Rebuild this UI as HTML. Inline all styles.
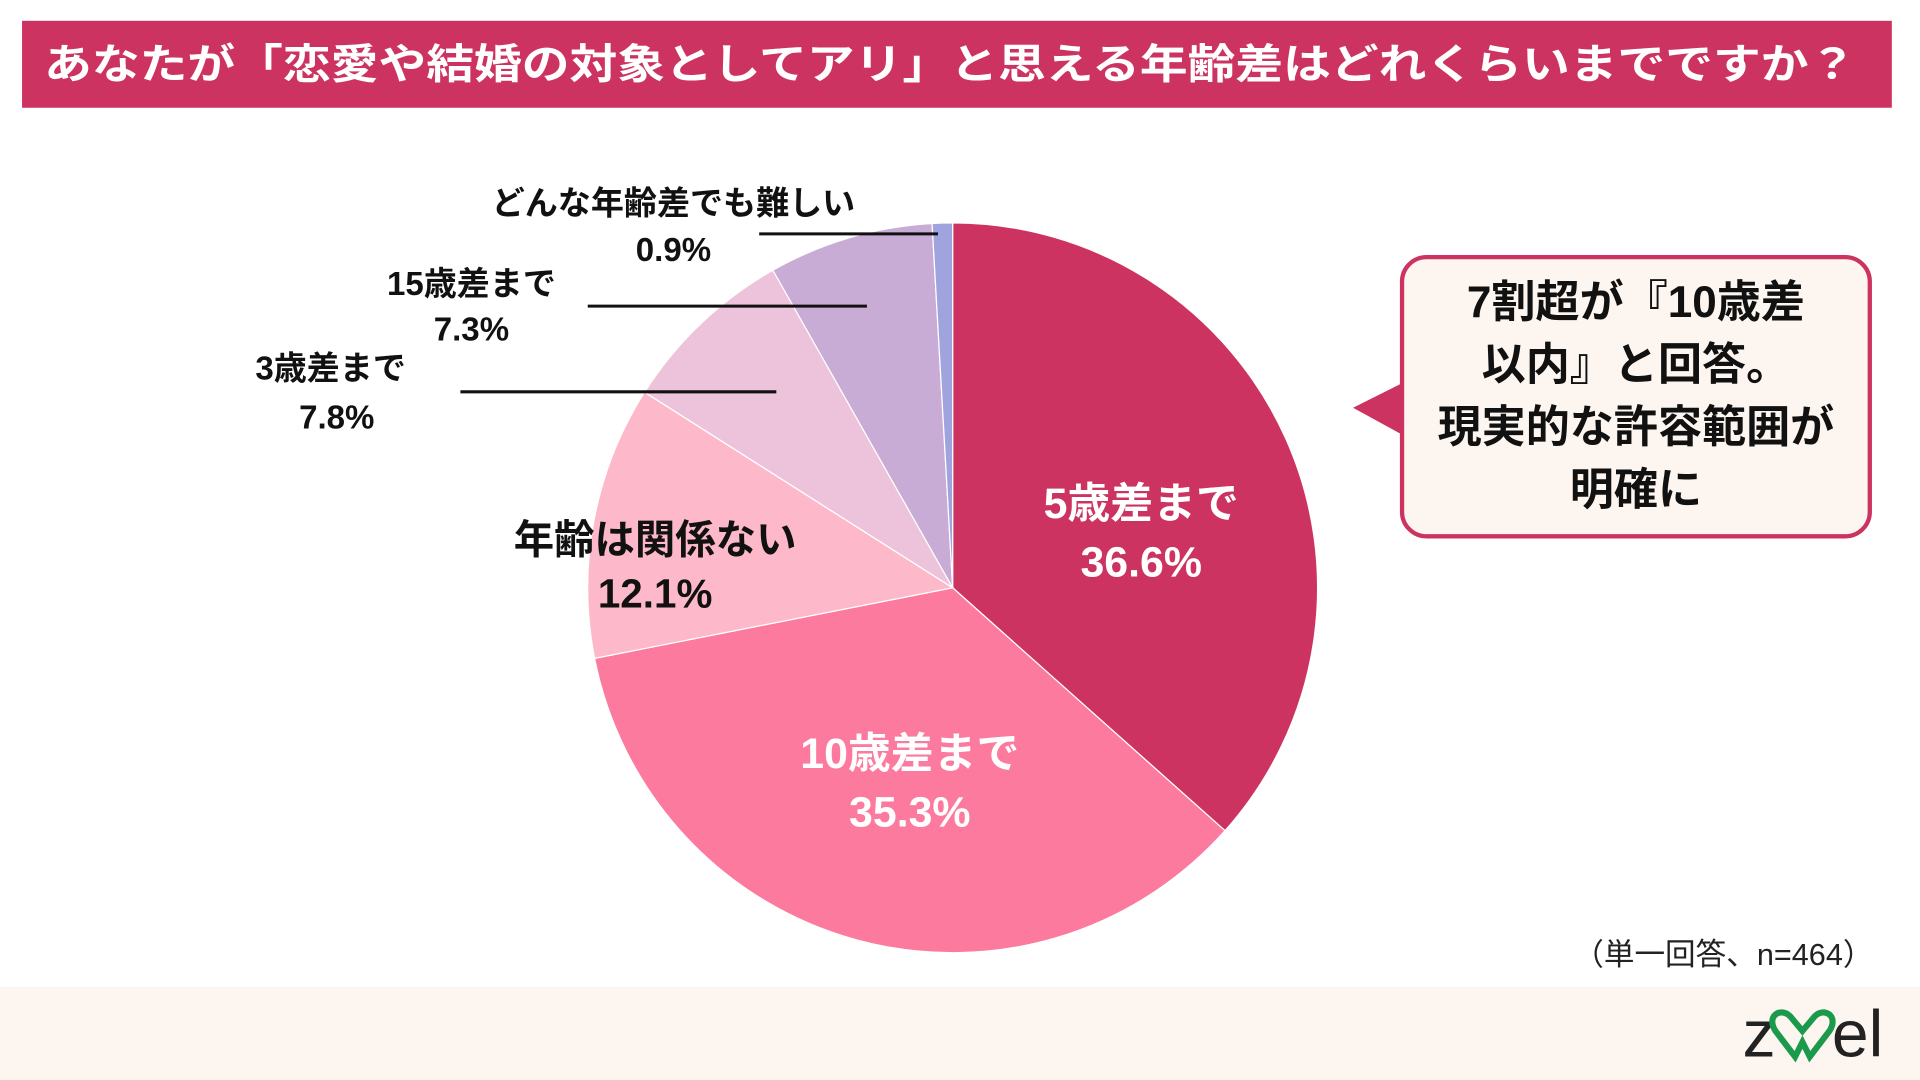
<!DOCTYPE html>
<html><head><meta charset="utf-8"><style>
html,body{margin:0;padding:0;background:#fff;width:1920px;height:1080px;overflow:hidden}
svg{display:block}
text{font-family:"Liberation Sans","Noto Sans CJK JP",sans-serif;font-weight:bold}
text.n{font-weight:normal}
</style></head><body>
<svg width="1920" height="1080" viewBox="0 0 1568 882" xmlns="http://www.w3.org/2000/svg">
<rect x="0" y="0" width="1568" height="882" fill="#fff"/>
<rect x="0" y="806" width="1568" height="76" fill="#fdf5ef"/>
<rect x="18" y="17" width="1527" height="71" fill="#cc3360"/>
<text x="36" y="64" font-size="34" fill="#fff" textLength="1480" lengthAdjust="spacingAndGlyphs">あなたが「恋愛や結婚の対象としてアリ」と思える年齢差はどれくらいまでですか？</text>
<g stroke="#fff" stroke-width="1">
<path d="M778 480 L778 182 A298 298 0 0 1 1000.4 678.4 Z" fill="#cc3360"/>
<path d="M778 480 L1000.4 678.4 A298 298 0 0 1 485.6 537.7 Z" fill="#fb7a9e"/>
<path d="M778 480 L485.6 537.7 A298 298 0 0 1 526.4 320.3 Z" fill="#fdb8c9"/>
<path d="M778 480 L526.4 320.3 A298 298 0 0 1 631.2 220.7 Z" fill="#ecc3da"/>
<path d="M778 480 L631.2 220.7 A298 298 0 0 1 761.2 182.5 Z" fill="#c9acd6"/>
<path d="M778 480 L761.2 182.5 A298 298 0 0 1 778 182 Z" fill="#9fa4df"/>
</g>
<g text-anchor="middle" font-size="35" fill="#fff">
<text x="932" y="423">5歳差まで</text>
<text x="932" y="471">36.6%</text>
<text x="743" y="627">10歳差まで</text>
<text x="743" y="675">35.3%</text>
</g>
<g text-anchor="middle" font-size="33" fill="#111">
<text x="535" y="452">年齢は関係ない</text>
<text x="535" y="496">12.1%</text>
</g>
<g text-anchor="middle" font-size="27" fill="#111">
<text x="270" y="310">3歳差まで</text>
<text x="275" y="350">7.8%</text>
<text x="385" y="241">15歳差まで</text>
<text x="385" y="278">7.3%</text>
<text x="550" y="175">どんな年齢差でも難しい</text>
<text x="550" y="213">0.9%</text>
</g>
<g stroke="#111" stroke-width="2.5">
<line x1="376" y1="320" x2="634" y2="320"/>
<line x1="480" y1="250" x2="708" y2="250"/>
<line x1="620" y1="191" x2="766" y2="191"/>
</g>
<path d="M1147 312 L1105 333 L1147 356 Z" fill="#cc3360"/>
<rect x="1145" y="210" width="382" height="228" rx="20" fill="#fdf5ef" stroke="#cc3360" stroke-width="3.5"/>
<g text-anchor="middle" font-size="36" fill="#111">
<text x="1336" y="259">7割超が『10歳差</text>
<text x="1336" y="310">以内』と回答。</text>
<text x="1336" y="361">現実的な許容範囲が</text>
<text x="1336" y="412">明確に</text>
</g>
<text class="n" x="1530" y="788" text-anchor="end" font-size="25" fill="#222">（単一回答、n=464）</text>
<text class="n" x="1423" y="863" font-size="54" fill="#222">z</text>
<path d="M1462 830 c-8 -8 -20 0 -12 12 l16 21 l6 -12 l6 12 l16 -21 c8 -12 -4 -20 -12 -12 l-10 12 z" fill="none" stroke="#1a9a4a" stroke-width="5"/>
<text class="n" x="1496" y="863" font-size="54" fill="#222" textLength="42" lengthAdjust="spacingAndGlyphs">el</text>
</svg>
</body></html>
